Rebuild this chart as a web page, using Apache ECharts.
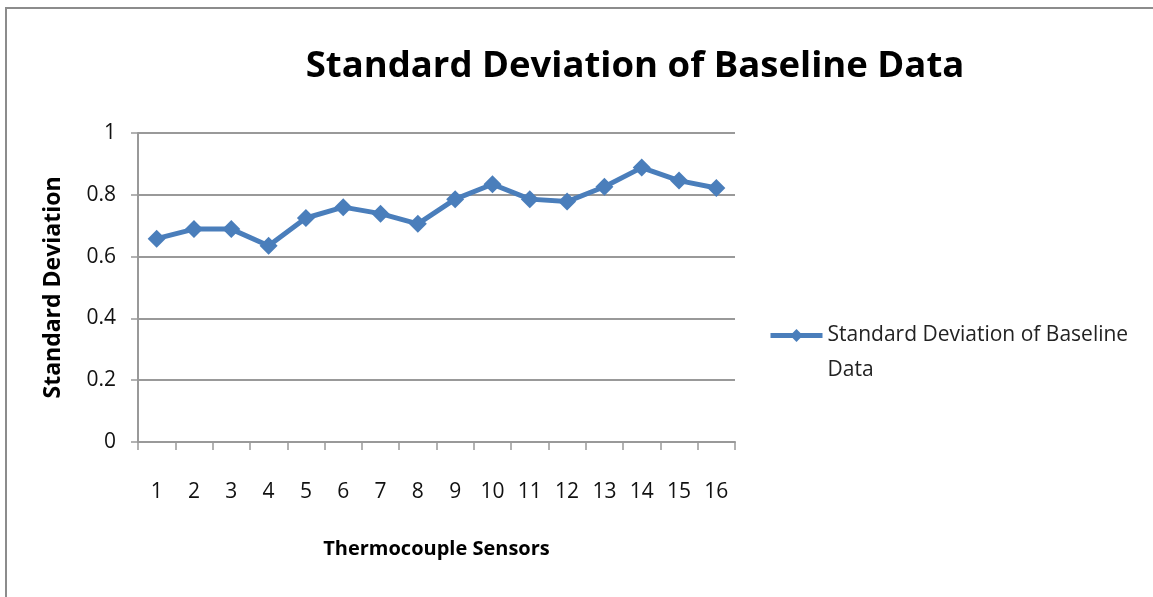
<!DOCTYPE html>
<html>
<head>
<meta charset="utf-8">
<script src="https://cdn.jsdelivr.net/npm/echarts@6/dist/echarts.min.js"></script>
<style>
  html, body { margin: 0; padding: 0; background: #fff; overflow: hidden; }
  #chart {
    position: absolute; left: 5px; top: 7px;
    width: 1146px; height: 588px;
    border-top: 2px solid #8c8c8c;
    border-left: 2px solid #8c8c8c;
  }
</style>
</head>
<body>
<div id="chart"></div>
<script>
const sensors = ['1', '2', '3', '4', '5', '6', '7', '8', '9', '10', '11', '12', '13', '14', '15', '16'];
const stdDev = [0.658, 0.689, 0.689, 0.635, 0.725, 0.760, 0.739, 0.706, 0.786, 0.834, 0.786, 0.778, 0.826, 0.888, 0.846, 0.822];
const seriesName = 'Standard Deviation of Baseline Data';

const font = "'Open Sans', sans-serif";
let myChart = echarts.init(document.getElementById('chart'));
const option = {
  animation: false,
  textStyle: { fontFamily: font },
  title: {
    text: seriesName,
    left: 623,
    top: 34,
    textAlign: 'center',
    textStyle: { fontSize: 36.5, fontWeight: 'bold', color: '#000', fontFamily: font }
  },
  legend: {
    left: 756,
    top: 269,
    orient: 'vertical',
    itemWidth: 52,
    itemHeight: 16,
    lineStyle: { width: 5 },
    // leading blank line so the icon sits level with the first text line
    formatter: () => '\nStandard Deviation of Baseline\nData',
    textStyle: { fontSize: 21, color: '#222', lineHeight: 35, fontFamily: font }
  },
  grid: { left: 131, right: 418, top: 124, bottom: 155 },
  xAxis: {
    type: 'category',
    data: sensors,
    boundaryGap: true,
    name: 'Thermocouple Sensors',
    nameLocation: 'middle',
    nameGap: 97,
    nameTextStyle: { fontSize: 20, fontWeight: 'bold', color: '#000', fontFamily: font },
    axisLine: { lineStyle: { color: '#999', width: 2 } },
    axisTick: { show: true, length: 8, lineStyle: { color: '#999', width: 1.5 } },
    axisLabel: { fontSize: 21, color: '#111', margin: 40, interval: 0 },
    splitLine: { show: false }
  },
  yAxis: {
    type: 'value',
    min: 0,
    max: 1,
    interval: 0.2,
    name: 'Standard Deviation',
    nameLocation: 'middle',
    nameGap: 73,
    nameTextStyle: { fontSize: 23, fontWeight: 'bold', color: '#000', fontFamily: font },
    axisLine: { show: true, lineStyle: { color: '#999', width: 2 } },
    axisTick: { show: true, length: 7, lineStyle: { color: '#999', width: 1.5 } },
    axisLabel: { fontSize: 21, color: '#111', margin: 22, formatter: v => String(+v.toFixed(1)) },
    splitLine: { lineStyle: { color: '#999', width: 2 } }
  },
  series: [{
    name: seriesName,
    type: 'line',
    data: stdDev,
    color: '#4a7ebb',
    symbol: 'diamond',
    symbolSize: 18,
    lineStyle: { width: 5 }
  }]
};
myChart.setOption(option);
</script>
</body>
</html>
